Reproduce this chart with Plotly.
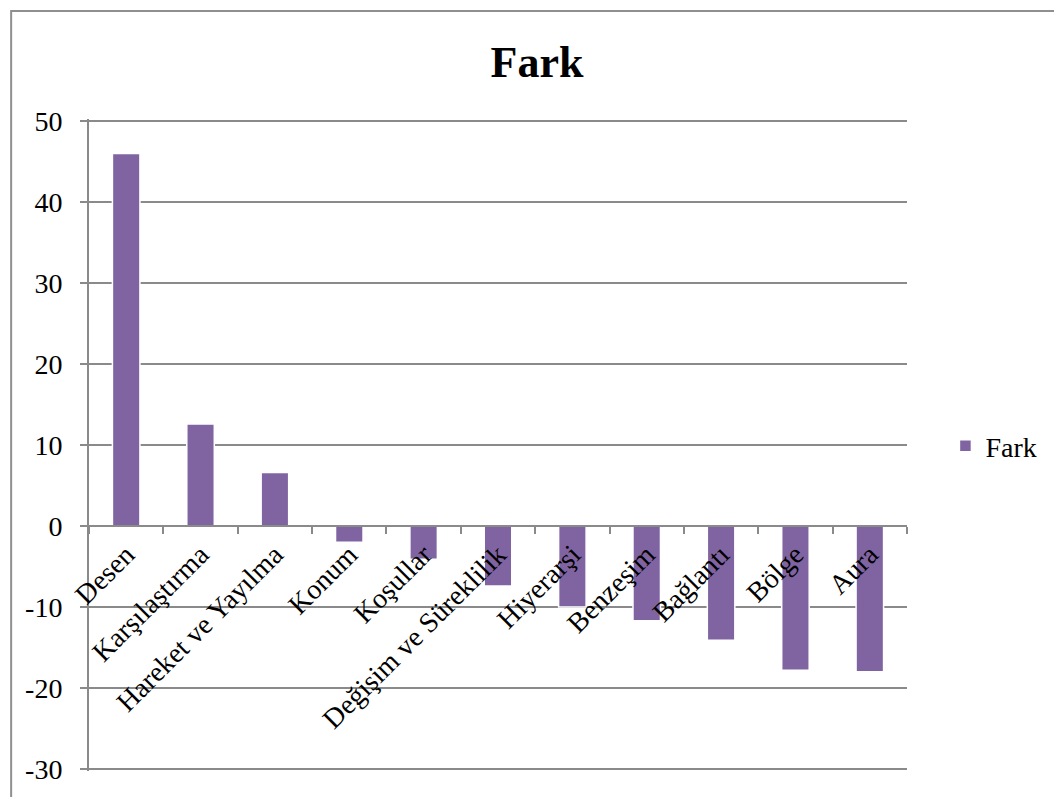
import plotly.graph_objects as go

# Kategoriler ve fark değerleri
categories = ["Desen", "Karşılaştırma", "Hareket ve Yayılma", "Konum", "Koşullar",
              "Değişim ve Süreklilik", "Hiyerarşi", "Benzeşim", "Bağlantı", "Bölge", "Aura"]
fark = [46, 12.6, 6.6, -2.0, -4.1, -7.4, -10.0, -11.7, -14.1, -17.8, -18.0]
y_ticks = [-30, -20, -10, 0, 10, 20, 30, 40, 50]
y_tick_labels = ["-30", "-20", "-10", "0", "10", "20", "30", "40", "50"]

W, H = 1054, 797
L, R, T, B = 89, 135, 119, 26
plot_w = W - L - R
plot_h = H - T - B

SERIF = "Liberation Serif"
FS = 28
GRID = "#8a8a8a"
BAR = "#8064A2"

fig = go.Figure()
fig.add_trace(go.Bar(
    x=categories, y=fark, name="Fark",
    marker=dict(color=BAR, line=dict(color="white", width=1.5)),
    width=0.37,
))

# small padding so the end gridlines at -30 and 50 are still drawn
y_min, y_max = -30.25, 50.25
zero_pos = (0 - y_min) / (y_max - y_min)

fig.update_layout(
    width=W, height=H,
    margin=dict(l=L, r=R, t=T, b=B),
    paper_bgcolor="white", plot_bgcolor="white",
    font=dict(family=SERIF, size=FS, color="black"),
    title=dict(text="<b>Fark</b>", font=dict(family=SERIF, size=44, color="black"),
               xref="container", x=537 / W, xanchor="center",
               yref="container", y=1 - 62 / H, yanchor="middle"),
    showlegend=True,
    legend=dict(x=(958 - L) / plot_w, y=(H - B - 446) / plot_h, xanchor="left", yanchor="middle",
                font=dict(family=SERIF, size=FS), itemwidth=30, bgcolor="rgba(0,0,0,0)"),
    xaxis=dict(
        type="category", anchor="free", position=zero_pos,
        showline=True, linecolor=GRID, linewidth=2,
        ticks="outside", tickson="boundaries", ticklen=7, tickcolor=GRID, tickwidth=2,
        tickangle=-45, showgrid=False,
        tickfont=dict(family=SERIF, size=FS, color="black"),
    ),
    yaxis=dict(
        range=[y_min, y_max], tickvals=y_ticks, ticktext=y_tick_labels,
        showline=True, linecolor=GRID, linewidth=2,
        ticks="outside", ticklen=7, tickcolor=GRID, tickwidth=2,
        showgrid=True, gridcolor=GRID, gridwidth=1.5,
        zeroline=False, ticklabelstandoff=12,
        tickfont=dict(family=SERIF, size=FS, color="black"),
    ),
    shapes=[dict(type="rect", xref="paper", yref="paper",
                 x0=(10 - L) / plot_w, x1=1.3, y0=-0.2, y1=1 + (T - 11) / plot_h,
                 line=dict(color="#8f8f8f", width=2), fillcolor="rgba(0,0,0,0)", layer="below")],
)

fig.write_html("out.html")
